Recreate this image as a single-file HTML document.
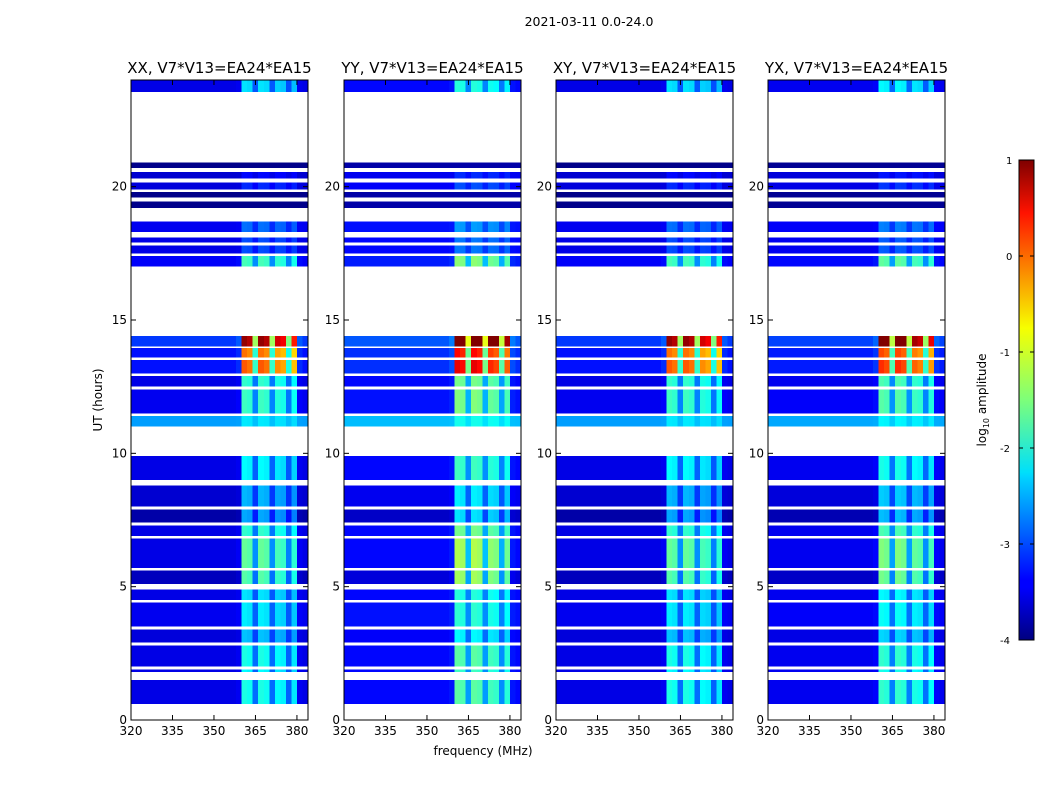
<!DOCTYPE html>
<html><head><meta charset="utf-8">
<style>
body{margin:0;background:#fff;font-family:"Liberation Sans","DejaVu Sans",sans-serif;}
svg text{font-family:"DejaVu Sans","Liberation Sans",sans-serif;}
</style></head>
<body>
<svg id="fig" width="1050" height="800" viewBox="0 0 1050 800" xmlns="http://www.w3.org/2000/svg">
<text x="589" y="26" font-size="12.5" text-anchor="middle">2021-03-11 0.0-24.0</text>
<text x="483" y="755" font-size="12" text-anchor="middle">frequency (MHz)</text>
<text x="102" y="400" font-size="12" text-anchor="middle" transform="rotate(-90 102 400)">UT (hours)</text>
<defs>
<linearGradient id="jet" x1="0" y1="1" x2="0" y2="0">
<stop offset="0" stop-color="#00007f"/><stop offset="0.11" stop-color="#0000ff"/><stop offset="0.125" stop-color="#0000ff"/>
<stop offset="0.34" stop-color="#00d4ff"/><stop offset="0.35" stop-color="#00e0fa"/><stop offset="0.5" stop-color="#7dff7a"/>
<stop offset="0.65" stop-color="#f7ff00"/><stop offset="0.89" stop-color="#ff1300"/><stop offset="1" stop-color="#7f0000"/>
</linearGradient>
</defs>
<g id="panels"></g>
<g>
<rect x="1019" y="160" width="15" height="480" fill="url(#jet)" stroke="#000" stroke-width="1"/>
<g id="cbticks"></g>
<text x="986" y="400" font-size="12" text-anchor="middle" transform="rotate(-90 986 400)">log<tspan font-size="8" dy="3">10</tspan><tspan dy="-3"> amplitude</tspan></text>
</g>
</svg>
<script>
// ---- data ----
const panelTitles=["XX, V7*V13=EA24*EA15","YY, V7*V13=EA24*EA15","XY, V7*V13=EA24*EA15","YX, V7*V13=EA24*EA15"];
const panelOffset=[0,0.15,0,0.05];
const panelGain=[1,1.12,1,1.05];
const freqChannels=[321,323,325,327,329,331,333,335,337,339,341,343,345,347,349,351,353,355,357,359,361,363,365,367,369,371,373,375,377,379,381,383];
const rfiProfile=[0,0,0,0,0,0,0,0,0,0,0,0,0,0,0,0,0,0,0,0.05,1.25,1.2,0.55,1.25,1.2,0.55,1.15,1.1,0.5,1.05,0.05,0];
// time rows: [start hour, end hour, base log amplitude, rfi gain]
const rowStart=[23.55,20.7,20.3,19.9,19.6,19.2,18.3,17.9,17.5,17.0,14.0,13.6,13.0,12.5,11.5,11.0,9.0,8.0,7.4,6.9,5.7,5.1,4.5,3.5,2.9,2.0,1.8,0.6];
const rowEnd  =[24.0,20.9,20.55,20.15,19.8,19.45,18.7,18.1,17.8,17.4,14.4,13.95,13.5,12.9,12.4,11.4,9.9,8.8,7.9,7.3,6.8,5.6,4.9,4.4,3.4,2.8,1.9,1.5];
const rowBase =[-3.5,-3.95,-3.6,-3.55,-3.95,-3.95,-3.45,-3.5,-3.5,-3.4,-3.1,-3.3,-3.3,-3.5,-3.45,-2.6,-3.5,-3.6,-3.8,-3.5,-3.5,-3.7,-3.5,-3.45,-3.55,-3.5,-3.5,-3.5];
const rowGain =[1.0,0,0.2,0.3,0,0,0.5,0.4,0.4,1.3,3.2,2.5,2.6,1.3,1.3,0.3,1.1,0.9,1.0,1.3,1.5,1.6,1.0,1.0,0.9,1.2,1.1,1.2];
const xTicks=[320,335,350,365,380];
const yTicks=[0,5,10,15,20];
const cbTicks=[1,0,-1,-2,-3,-4];
// ---- layout ----
const panelX=[131,344,556,768], PW=177, PT=80, PB=720;
const fMin=320,fMax=384,hMin=0,hMax=24,vMin=-4,vMax=1;
function jet(v){let t=Math.max(0,Math.min(1,(v-vMin)/(vMax-vMin)));
 const f=(x)=>Math.round(255*Math.max(0,Math.min(1,x)));
 return `rgb(${f(1.5-Math.abs(4*t-3))},${f(1.5-Math.abs(4*t-2))},${f(1.5-Math.abs(4*t-1))})`;}
const NS="http://www.w3.org/2000/svg";
function mk(tag,attrs,parent){const e=document.createElementNS(NS,tag);for(const k in attrs)e.setAttribute(k,attrs[k]);parent.appendChild(e);return e;}
const G=document.getElementById('panels');
panelTitles.forEach((title,p)=>{
 const x0=panelX[p];
 const xs=f=>x0+(f-fMin)/(fMax-fMin)*PW;
 const ys=h=>PB-(h-hMin)/(hMax-hMin)*(PB-PT);
 const g=mk('g',{},G);
 
 
 const hm=mk('g',{'shape-rendering':'crispEdges'},g);
 
 
 rowStart.forEach((h0,r)=>{
  const y1=ys(rowEnd[r]),y2=ys(h0);
  freqChannels.forEach((fc,c)=>{
   const v=rowBase[r]+panelOffset[p]+rowGain[r]*panelGain[p]*rfiProfile[c];
   const x1=xs(fc-1),x2=xs(fc+1);
   const rc=mk('rect',{x:x1,y:y1,width:x2-x1+0.3,height:y2-y1,fill:jet(v)},hm);
   
   
  });
 });
 const fr=mk('rect',{x:x0,y:PT,width:PW,height:PB-PT,fill:'none',stroke:'#000','stroke-width':1},g);
 
 
 const tt=mk('text',{x:x0+PW/2,y:73,'font-size':15,'text-anchor':'middle'},g);
 tt.textContent=title;
 
 
 xTicks.forEach(t=>{const x=xs(t);
  mk('line',{x1:x,x2:x,y1:PB,y2:PB-5,stroke:'#000'},g);mk('line',{x1:x,x2:x,y1:PT,y2:PT+5,stroke:'#000'},g);
  const tx=mk('text',{x:x,y:PB+15,'font-size':12,'text-anchor':'middle'},g);tx.textContent=t;
  
  });
 yTicks.forEach(t=>{const y=ys(t);
  mk('line',{x1:x0,x2:x0+5,y1:y,y2:y,stroke:'#000'},g);mk('line',{x1:x0+PW,x2:x0+PW-5,y1:y,y2:y,stroke:'#000'},g);
  const tx=mk('text',{x:x0-4,y:y+4,'font-size':12,'text-anchor':'end'},g);tx.textContent=t;
  
  });
});
const CB=document.getElementById('cbticks');
cbTicks.forEach(t=>{const y=640-(t-vMin)/(vMax-vMin)*480;
 mk('line',{x1:1019,x2:1023,y1:y,y2:y,stroke:'#000'},CB);mk('line',{x1:1034,x2:1030,y1:y,y2:y,stroke:'#000'},CB);
 const tx=mk('text',{x:1006,y:y+4,'font-size':10,'text-anchor':'start'},CB);tx.textContent=t;
 tx.setAttribute('x',t<0?1000:1006);
 
 });
</script>
</body></html>
